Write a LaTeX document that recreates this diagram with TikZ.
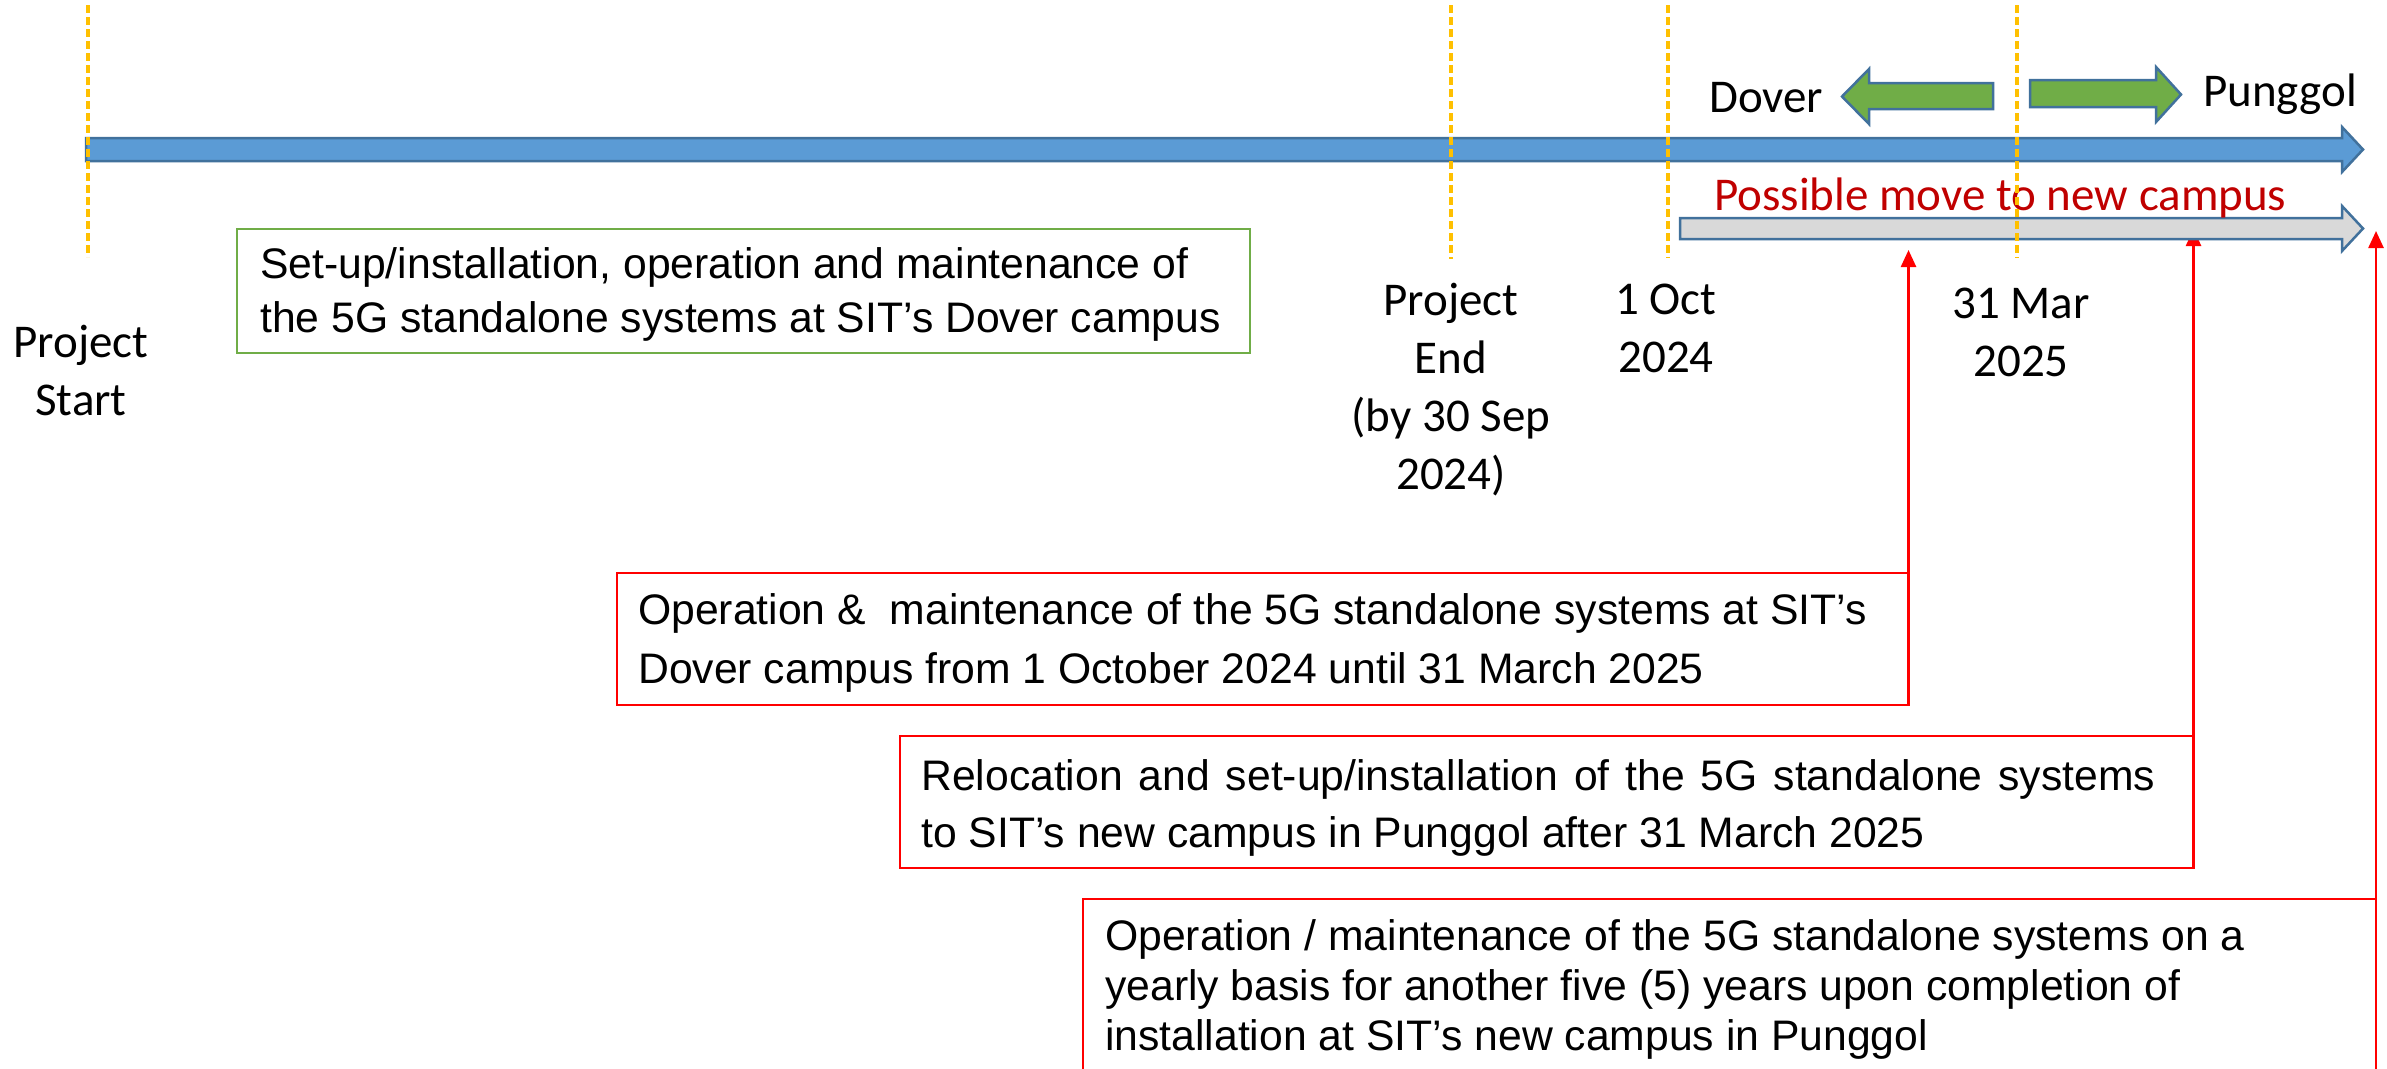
\documentclass[tikz,border=0pt]{standalone}
\usepackage{fontspec}
\setmainfont{Liberation Sans}
\newfontfamily\calib{Carlito}
\usetikzlibrary{arrows.meta}
\definecolor{blueF}{HTML}{5B9BD5}
\definecolor{blueB}{HTML}{41719C}
\definecolor{grayF}{HTML}{D9D9D9}
\definecolor{greenF}{HTML}{70AD47}
\definecolor{gold}{HTML}{FFC000}
\definecolor{darkred}{HTML}{C00000}
\definecolor{pureRed}{HTML}{FF0000}
\begin{document}
\begin{tikzpicture}[x=1pt,y=-1pt,
 bararrow/.style={draw=blueB, line width=2.5pt, line join=miter},
 guide/.style={draw=gold, line width=3.5pt, dash pattern=on 8pt off 4pt},
 redbox/.style={draw=pureRed, line width=2.2pt, inner sep=0pt, outer sep=0pt, anchor=north west},
 greenbox/.style={draw=greenF, line width=2pt, inner sep=0pt, outer sep=0pt, anchor=north west},
 pointer/.style={draw=pureRed, line width=2.5pt, -{Triangle[width=15pt,length=17pt]}},
 lbl/.style={inner sep=0pt, font=\calib\fontsize{47}{58}\selectfont},
 boxtext/.style={inner sep=0pt, anchor=base west},
]
\useasboundingbox (0,0) rectangle (2387,1068);
\clip (0,0) rectangle (2387,1068);
\fill[white] (0,0) rectangle (2387,1068);

% main timeline arrow
\draw[bararrow, fill=blueF] (86,138) -- (2342,138) -- (2342,127) -- (2363,149.5) -- (2342,172) -- (2342,161) -- (86,161) -- cycle;

% boxes
\node[greenbox, minimum width=1013pt, minimum height=124pt] (gbox) at (237,229) {};
\node[redbox, minimum width=1291.5pt, minimum height=132pt] (box1) at (617,573) {};
\node[redbox, minimum width=1293.5pt, minimum height=132pt] (box2) at (900,736) {};
\node[redbox, minimum width=1293pt, minimum height=300pt] (box3) at (1083,899) {};

% pointers
\coordinate (tipA) at (1908.5,250);
\coordinate (tipB) at (2193.5,229);
\coordinate (tipC) at (2376,231);
\draw[pointer] (box1.north east) -- (tipA);
\draw[pointer] (box2.north east) -- (tipB);
\draw[pointer] (box3.north east) -- (tipC);

% possible move arrow
\draw[bararrow, fill=grayF] (1680,218) -- (2342,218) -- (2342,206) -- (2363,228.5) -- (2342,251) -- (2342,239) -- (1680,239) -- cycle;

% green direction arrows
\draw[bararrow, fill=greenF] (1842,96.5) -- (1869,69) -- (1869,83) -- (1993,83) -- (1993,109) -- (1869,109) -- (1869,124) -- cycle;
\draw[bararrow, fill=greenF] (2030,80) -- (2156,80) -- (2156,67) -- (2181,94.5) -- (2156,122) -- (2156,107) -- (2030,107) -- cycle;

% labels
\node[lbl, anchor=base west] (dover) at (1709,112) {Dover};
\node[lbl, anchor=base west] (punggol) at (2203,106) {Punggol};
\node[lbl, anchor=base west, text=darkred] (move) at (1714,210) {Possible move to new campus};
\node[lbl, anchor=base] (pstart) at (81,357) {\parbox[t]{300pt}{\centering Project\\Start}};
\node[lbl, anchor=base] (pend) at (1451,315) {\parbox[t]{300pt}{\centering Project\\End\\(by 30 Sep\\2024)}};
\node[lbl, anchor=base] (oct) at (1666,314) {\parbox[t]{300pt}{\centering 1 Oct\\2024}};
\node[lbl, anchor=base] (mar) at (2021,318) {\parbox[t]{300pt}{\centering 31 Mar\\2025}};

% box texts
\node[boxtext] (tg) at (260,278) {\parbox[t]{1000pt}{\fontsize{42.7}{54}\selectfont Set-up/installation, operation and maintenance of\\the 5G standalone systems at SIT’s Dover campus}};
\node[boxtext] (t1) at (638,624) {\parbox[t]{1300pt}{\fontsize{42.7}{59}\selectfont Operation \&\ \ maintenance of the 5G standalone systems at SIT’s\\Dover campus from 1 October 2024 until 31 March 2025}};
\node[boxtext] (t2) at (921,790) {\parbox[t]{1300pt}{\fontsize{42.7}{57}\selectfont \makebox[1234pt][s]{Relocation and set-up/installation of the 5G standalone systems}\\to SIT’s new campus in Punggol after 31 March 2025}};
\node[boxtext] (t3) at (1105,950) {\parbox[t]{1300pt}{\fontsize{42.7}{50}\selectfont Operation / maintenance of the 5G standalone systems on a\\yearly basis for another five (5) years upon completion of\\installation at SIT’s new campus in Punggol}};

% dashed milestone guides
\draw[guide] (88,5) -- (88,257);
\draw[guide] (1451,5) -- (1451,259);
\draw[guide] (1668,5) -- (1668,258);
\draw[guide] (2017,5) -- (2017,258);
\end{tikzpicture}
\end{document}
